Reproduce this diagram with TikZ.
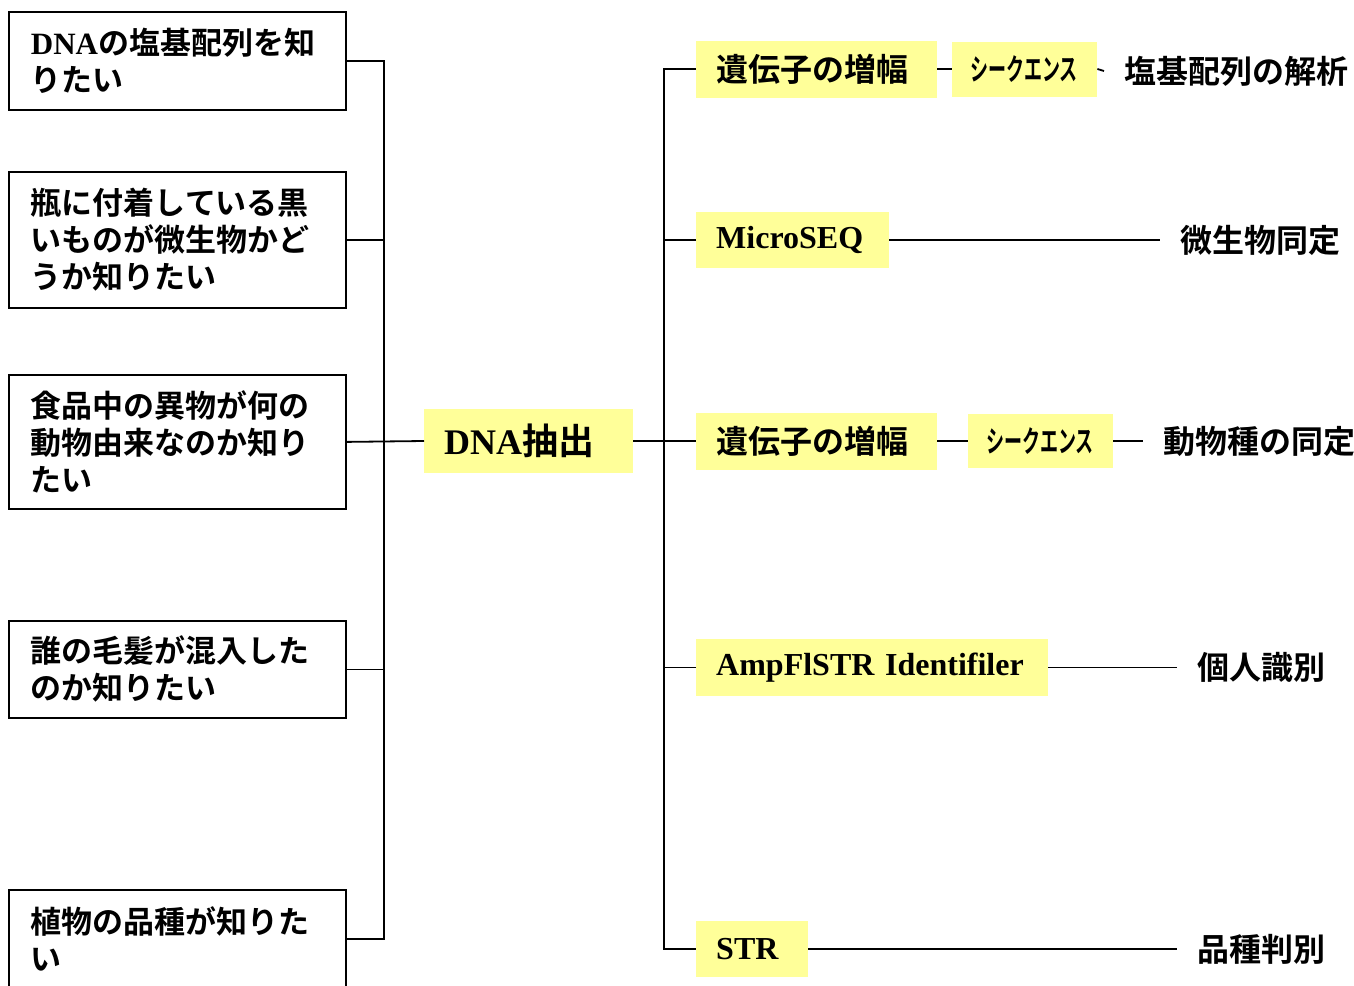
\documentclass[tikz,border=0pt]{standalone}
\usepackage{fontspec}
\setmainfont{Liberation Serif}
\newfontfamily\jp{Noto Sans CJK JP Bold}
\usepackage{graphicx}
\definecolor{hl}{RGB}{255,255,153}
\begin{document}
\begin{tikzpicture}[x=1pt,y=-1pt,
  lbox/.style={draw, line width=1.8pt, anchor=north west, minimum width=337, text width=293,
    inner xsep=22, inner ysep=0, align=left, font=\fontsize{31}{37}\selectfont\jp},
  ynode/.style={fill=hl, anchor=west, inner xsep=20, inner ysep=0, align=left,
    font=\fontsize{32}{38}\selectfont\jp},
  lat/.style={font=\fontsize{32}{38}\selectfont\rmfamily\bfseries},
  res/.style={anchor=west, inner xsep=20, inner ysep=0, font=\fontsize{32}{38}\selectfont\jp},
  conn/.style={line width=1.8pt}]
\useasboundingbox (0,0) rectangle (1354,985);
% left boxes
\node[lbox, minimum height=98] (b1) at (8,11) {{\rmfamily\bfseries DNA}の塩基配列を知\\りたい};
\node[lbox, minimum height=136] (b2) at (8,171) {瓶に付着している黒\\いものが微生物かど\\うか知りたい};
\node[lbox, minimum height=134] (b3) at (8,374) {食品中の異物が何の\\動物由来なのか知り\\たい};
\node[lbox, minimum height=97] (b4) at (8,620) {誰の毛髪が混入した\\のか知りたい};
\node[lbox, minimum height=98] (b5) at (8,889) {植物の品種が知りた\\い};
% center
\node[ynode, text width=169, minimum height=64, font=\fontsize{36}{42}\selectfont\jp] (dna) at (424,441)
  {{\rmfamily\bfseries DNA}抽出};
% right nodes
\node[ynode, text width=201, minimum height=57] (r1) at (696,69) {遺伝子の増幅};
\node[ynode, inner xsep=18, text width=109, minimum height=55] (s1) at (952,69)
  {\fontsize{30}{36}\selectfont\scalebox{0.6}[1]{シークエンス}};
\node[ynode, lat, text width=153, minimum height=56] (r2) at (696,240) {MicroSEQ};
\node[ynode, text width=201, minimum height=57] (r3) at (696,441) {遺伝子の増幅};
\node[ynode, inner xsep=18, text width=109, minimum height=54] (s3) at (968,441)
  {\fontsize{30}{36}\selectfont\scalebox{0.6}[1]{シークエンス}};
\node[ynode, lat, text width=312, minimum height=57] (r4) at (696,667.5) {AmpFlSTR Identifiler};
\node[ynode, lat, text width=72, minimum height=56] (r5) at (696,949) {STR};
% results
\node[res] (t1) at (1104,71) {塩基配列の解析};
\node[res] (t2) at (1160,240) {微生物同定};
\node[res] (t3) at (1143,441) {動物種の同定};
\node[res] (t4) at (1177,667.5) {個人識別};
\node[res] (t5) at (1177,949) {品種判別};
% left bus
\coordinate (lbus) at (384,0);
\draw[conn] (b1.east) -- (b1.east -| lbus) -- (b5.east -| lbus) -- (b5.east);
\draw[conn] (b2.east) -- (b2.east -| lbus);
\draw[conn] (b4.east) -- (b4.east -| lbus);
\draw[conn] (b3.east) -- (dna.west);
% right bus
\coordinate (rbus) at (664,0);
\draw[conn] (dna.east) -- (r3.west);
\draw[conn] (r1.west) -- (r1.west -| rbus) -- (r5.west -| rbus) -- (r5.west);
\draw[conn] (r2.west) -- (r2.west -| rbus);
\draw[conn] (r4.west) -- (r4.west -| rbus);
% right connectors
\draw[conn] (r1.east) -- (s1.west);
\draw[conn] (s1.east) -- (t1.west);
\draw[conn] (r2.east) -- (t2.west);
\draw[conn] (r3.east) -- (s3.west);
\draw[conn] (s3.east) -- (t3.west);
\draw[conn] (r4.east) -- (t4.west);
\draw[conn] (r5.east) -- (t5.west);
\end{tikzpicture}
\end{document}
